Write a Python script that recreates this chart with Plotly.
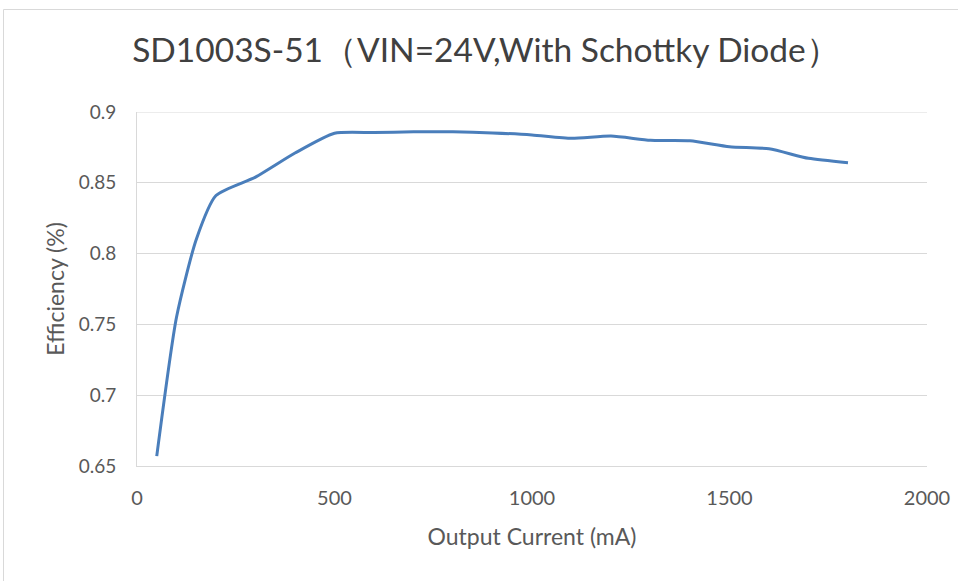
import plotly.graph_objects as go

current_ma = [50, 100, 150, 200, 300, 400, 500, 600, 700, 800, 900, 1000, 1100, 1200, 1300, 1400, 1500, 1600, 1700, 1800]
efficiency = [0.657, 0.755, 0.810, 0.841, 0.854, 0.871, 0.885, 0.8855, 0.886, 0.886, 0.8852, 0.8838, 0.8814, 0.883, 0.880, 0.8797, 0.8755, 0.874, 0.8673, 0.8642]

title_text = "SD1003S-51（VIN=24V,With Schottky Diode）"
x_title = "Output Current (mA)"
y_title = "Efficiency (%)"
x_ticks = [0, 500, 1000, 1500, 2000]
y_ticks = [0.65, 0.7, 0.75, 0.8, 0.85, 0.9]
y_tick_text = ["0.65", "0.7", "0.75", "0.8", "0.85", "0.9"]

FONT = "Lato, 'Noto Sans', sans-serif"
GRAY = "#595959"
GRID = "#d9d9d9"

W, H = 958, 581
L, R, T, B = 137, 31, 112, 115
pw, ph = W - L - R, H - T - B

def px_to_paper_x(px):
    return (px - L) / pw

def py_to_paper_y(py):
    return (H - B - py) / ph

fig = go.Figure()
fig.add_trace(go.Scatter(
    x=current_ma, y=efficiency, mode="lines",
    line=dict(color="#4a7ebb", width=3, shape="spline", smoothing=0.6),
    showlegend=False, hoverinfo="x+y",
))

# outer chart border (light gray)
fig.add_shape(type="rect", xref="paper", yref="paper",
              x0=px_to_paper_x(3.5), x1=px_to_paper_x(975),
              y0=py_to_paper_y(600), y1=py_to_paper_y(9.5),
              line=dict(color="#d9d9d9", width=1), fillcolor="rgba(0,0,0,0)", layer="below")

fig.update_layout(
    width=W, height=H,
    margin=dict(l=L, r=R, t=T, b=B, autoexpand=False),
    paper_bgcolor="white", plot_bgcolor="white",
    font=dict(family=FONT, color=GRAY),
    title=dict(text=title_text, x=486 / W, xref="container", xanchor="center",
               y=1 - 50 / H, yanchor="middle", yref="container",
               font=dict(family=FONT, size=33.5, color="#404040"),
               automargin=False),
)

fig.update_xaxes(
    range=[0, 2000], tickvals=x_ticks, automargin=False,
    showgrid=False, zeroline=False,
    showline=True, linecolor=GRID, linewidth=1,
    ticks="", ticklabelstandoff=14,
    tickfont=dict(size=20, color=GRAY, family=FONT),
    title=dict(text=x_title, font=dict(size=23, color=GRAY, family=FONT), standoff=20),
)
fig.update_yaxes(
    range=[0.65, 0.9], tickvals=y_ticks, ticktext=y_tick_text, automargin=False,
    showgrid=True, gridcolor=GRID, gridwidth=1, zeroline=False,
    showline=True, linecolor=GRID, linewidth=1,
    ticks="", ticklabelstandoff=16,
    tickfont=dict(size=19, color=GRAY, family=FONT),
    title=dict(text=y_title, font=dict(size=23, color=GRAY, family=FONT), standoff=7),
)
fig.add_shape(type="line", xref="paper", yref="y", x0=0, x1=1, y0=0.9, y1=0.9,
              line=dict(color=GRID, width=1), layer="below")

fig.write_html("out.html", config={"displayModeBar": False},
               post_script="document.body.style.margin='0';")
